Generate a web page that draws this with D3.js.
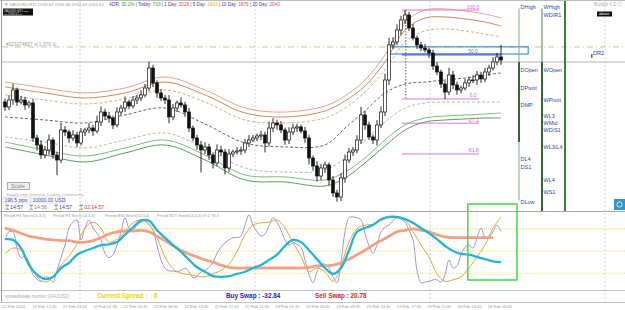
<!DOCTYPE html>
<html><head><meta charset="utf-8">
<script src="https://cdn.jsdelivr.net/npm/d3@7"></script>
<style>
html,body{margin:0;padding:0;background:#fff;overflow:hidden;}
svg{display:block;font-family:"Liberation Sans",Arial,sans-serif;}
</style></head><body>
<svg id="c" width="625" height="310"></svg>
<script>
// ---------------- DATA ----------------
const firstOpen = 2030.5;
const closes = [2029.88,2030.75,2032,2030.5,2030.75,2030.13,2030.38,2026,2025.13,2023.88,
2024.5,2025.75,2023.88,2023.25,2027,2026.75,2026,2026.38,2025.38,2026.75,
2027,2027.25,2026.88,2028,2029.25,2028.75,2028.5,2027.63,2029.25,2029.75,
2030.5,2030,2030.75,2031,2031.38,2032.25,2034.75,2032.88,2031.63,2031,
2030.75,2028.63,2029.75,2030.38,2030.13,2029.25,2027.25,2026,2025.13,2024.5,
2024.88,2023.88,2022.88,2024.5,2024.25,2022.25,2024,2024.25,2024.38,2024.5,
2025.38,2025.75,2026,2026.25,2026.38,2025.38,2027.25,2027.88,2027.63,2027,
2025.75,2026.75,2027.25,2027.38,2026.88,2026,2023.5,2022.5,2021.25,2022.25,
2022.63,2020.75,2019.13,2018.63,2021,2023.25,2024.25,2024.5,2025.75,2028.88,
2027.63,2026.13,2025.75,2027.63,2029.25,2033.25,2037.63,2038,2039.5,2040.75,
2041.38,2039.75,2038.5,2037.63,2037.25,2037,2036.63,2035,2034.25,2032.75,
2031.75,2033.88,2032.63,2032,2032.25,2032.88,2033.25,2033.25,2033.88,2033.38,
2034.25,2034.75,2035.5,2036.13,2035.75];
const hiWick = [0.4,0.6,0.8,0.3,0.5,0.4,0.3,0.5,0.4,0.6, 0.5,0.7,0.3,0.4,0.9,0.5,0.3,0.6,0.4,0.5,
0.3,0.6,0.4,0.8,0.7,0.4,0.5,0.3,0.6,0.4, 0.7,0.3,0.5,0.4,0.6,0.5,0.8,0.4,0.3,0.5,
0.4,0.6,0.5,0.3,0.7,0.4,0.5,0.3,0.4,0.5, 0.6,0.4,0.3,0.7,0.5,0.4,0.6,0.3,0.5,0.4,
0.5,0.6,0.4,0.3,0.5,0.4,0.8,0.6,0.4,0.5, 0.3,0.6,0.5,0.4,0.3,0.5,0.4,0.3,0.6,0.5,
0.4,0.3,0.5,0.4,0.6,0.7,0.5,0.4,0.6,1.0, 0.5,0.4,0.3,0.6,0.7,0.8,0.9,0.6,0.7,0.5,
0.6,0.4,0.5,0.3,0.4,0.5,0.3,0.4,0.5,0.3, 0.4,0.9,0.5,0.4,0.3,0.5,0.4,0.6,0.5,0.4,
0.5,0.4,0.6,0.5,1.5];
const loWick = [0.5,0.4,0.6,0.5,0.3,0.6,0.4,0.5,0.7,0.5, 0.4,0.6,0.5,1.9,0.4,0.5,0.6,0.4,0.5,0.3,
0.5,0.4,0.6,0.3,0.5,0.4,0.6,0.5,0.3,0.4, 0.5,0.4,0.3,0.5,0.4,0.3,0.4,0.5,0.6,0.4,
0.5,0.8,0.4,0.5,0.3,0.6,0.5,0.4,0.6,2.8, 0.5,0.6,0.7,0.4,0.5,0.8,0.5,0.4,0.3,0.5,
0.4,0.5,0.3,0.4,0.5,1.2,0.4,0.5,0.6,0.4, 0.6,0.5,0.4,0.5,0.3,0.6,0.8,0.6,0.7,0.5,
0.6,0.7,0.5,0.6,0.5,0.6,0.4,0.5,0.4,0.5, 0.6,0.4,0.5,0.7,0.4,0.5,0.6,0.5,0.4,0.6,
0.5,0.4,0.3,0.5,0.4,0.3,0.6,0.5,0.4,0.5, 0.9,0.4,0.5,0.6,0.4,0.3,0.5,0.4,0.6,0.5,
0.4,0.5,0.3,0.4,0.6];

// envelope bands, sampled at candle indices
const bandIdx = [0,10,20,30,40,50,60,70,80,85,90,95,100,105,110,115,120,124];
const bandMid = [2028.63,2028.25,2027.88,2028.88,2029.75,2027.75,2025.38,2024.88,2025.13,2027.25,2029.38,2031.63,2032.75,2033,2033.25,2033.5,2033.88,2034.13];
const bandUpOuter = [2033,2032.25,2031.63,2032.25,2033.63,2032,2029.75,2029.25,2030,2031.25,2033.25,2036.38,2040.5,2042,2042.13,2041.88,2041.5,2041];
const bandUpInner = [2032.38,2031.63,2031,2031.63,2033,2031.38,2029.13,2028.63,2029.38,2030.63,2032.5,2035.5,2039.5,2041,2041.13,2040.88,2040.5,2040];
const bandUpDash = [2031.38,2030.75,2030.25,2030.88,2032,2030.5,2028.25,2027.88,2028.5,2029.75,2031.75,2034.5,2038,2039.38,2039.63,2039.38,2039,2038.63];
const bandLoDash = [2026.13,2025.5,2024.75,2025.75,2026.63,2024.75,2022.25,2021.75,2022,2023.5,2025.75,2028,2029.75,2030.38,2030.5,2030.5,2030.5,2030.5];
const bandLoInner = [2025.5,2024.5,2023.75,2024.75,2025.75,2023.88,2021.38,2021.13,2020.75,2021.75,2023.5,2025.75,2027.63,2028.5,2028.75,2028.88,2029,2029.13];
const bandLoOuter = [2024.88,2023.88,2023,2024.13,2025.13,2023.25,2020.75,2020.5,2020,2021,2022.88,2025,2027,2028,2028.25,2028.38,2028.5,2028.5];

// Fibonacci
const fibLevels = [100, 50, 0, -27.2, -61.8];
const fibHigh = 2042, fibLow = 2030.88;
const fibStartIdx = 99.2, fibEndIdx = 118.5;

const sellLine = 2037.38;   // dash-dot order line
const bidPrice = 2035.5;
const zoneTop = 2037.4, zoneBottom = 2036.5, zoneStartIdx = 95.8, zoneEndIdx = 130.8;

// pivot columns (candle offsets) and levels
const dCol = 128.5, wCol = 134.25, mCol = 140;
const dailyLevels = [["DHigh",2042.38],["DOpen",2034.5],["DPivot",2032.25],["DMP",2030.13],["DL4",2023.38],["DS1",2022.38],["DLow",2018]];
const weeklyLevels = [["WHigh",2042.38],["WD/R1",2041.38],["WOpen",2034.5],["WPivot",2030.75],["WL3",2028.75],["WMid",2027.88],["WD/S1",2027],["WL3/L4",2024.88],["WL4",2020.75],["WS1",2019.25]];
const dr2 = ["DR2", 2036.5, 146.5];

// stochastic oscillators (H4, H1, M30 every 2 candles; M15 every candle)
const stochH4 = [81,78,74,70,68,66,65,64,64,62,62,64,68,73,76,77,77,78,76,70,64,57,51,46,42,38,35,31,28,27,27,27,27,27,27,27,27,27,28,30,30,31,34,39,45,51,58,64,70,76,78,80,78,76,72,69,68,68,68,68,68,68,null];
const stochH1 = [66,65,54,31,18,12,15,27,34,45,50,54,58,59,62,72,82,91,91,78,68,58,49,38,28,22,16,15,16,19,22,27,31,38,45,57,65,62,51,39,27,19,27,51,76,81,85,93,96,96,93,88,81,74,66,57,50,46,45,42,39,36,35];
const stochM30 = [46,54,51,35,15,8,14,31,43,59,81,89,81,62,66,76,88,92,86,68,42,26,20,18,16,15,19,24,32,49,72,85,88,89,92,81,61,43,22,27,22,9,30,62,80,85,86,91,95,95,92,76,58,42,19,9,11,15,27,42,58,81,96];
const stochM15 = [65,76,76,54,41,43,35,18,12,9,15,14,8,24,41,58,81,89,92,65,81,92,81,74,65,47,41,45,58,76,95,81,78,85,89,92,86,78,58,38,27,23,23,22,24,27,22,14,16,22,24,28,35,47,55,61,65,68,68,70,85,99,85,76,70,73,84,95,89,78,65,58,61,59,55,38,18,7,22,32,32,27,15,7,35,76,95,96,95,92,74,57,47,58,76,82,85,91,95,93,89,78,65,24,7,8,9,11,11,8,18,38,27,30,45,55,58,54,68,81,69,69,76,85,76];
const stochLevels = [80, 50, 20];
const boxStartIdx = 115.7, boxEndIdx = 128;

const timeLabels = ["21 Feb 2024","21 Feb 17:45","21 Feb 21:45","22 Feb 01:45","22 Feb 05:45","22 Feb 09:45","22 Feb 13:45","22 Feb 17:45","22 Feb 21:45","23 Feb 01:45","23 Feb 05:45","23 Feb 09:45","23 Feb 13:45","23 Feb 17:45","23 Feb 21:45","26 Feb 04:45","26 Feb 08:45"];
const gridIdx = [18.75, 62.5, 106.25, 150];

// ---------------- DRAW ----------------
const svg = d3.select("#c");
const W = 625, H = 310;
const x = d3.scaleLinear().domain([0, 124]).range([5, 501]);
const y = d3.scaleLinear().domain([2018, 2042]).range([202, 10]);
const sy = d3.scaleLinear().domain([0, 100]).range([288, 214]);
const tx = d3.scalePoint().domain(timeLabels).range([2, 488]);

svg.append("rect").attr("width", W).attr("height", H).attr("fill", "#fff");
const defs = svg.append("defs");
defs.append("clipPath").attr("id","mainclip").append("rect").attr("x",2).attr("y",1).attr("width",623).attr("height",210);
defs.append("clipPath").attr("id","subclip").append("rect").attr("x",2).attr("y",212).attr("width",623).attr("height",77);

// grid verticals
svg.append("g").selectAll("line").data(gridIdx).join("line")
  .attr("x1", d => x(d)).attr("x2", d => x(d)).attr("y1", 1).attr("y2", 302)
  .attr("stroke", "#c8c8c8").attr("stroke-width", 0.8).attr("stroke-dasharray", "2,2");

const main = svg.append("g").attr("clip-path","url(#mainclip)");

// bands
const bandLine = vals => d3.line().curve(d3.curveCatmullRom)
  .x((d,i) => x(bandIdx[i])).y(d => y(d))(vals);
const bands = [
  [bandUpOuter, "#eaa08c", 1, null],
  [bandUpInner, "#cf8a5a", 1, null],
  [bandUpDash, "#e0a070", 0.9, "3,2"],
  [bandMid, "#555", 0.9, "3,2"],
  [bandLoDash, "#8ec48e", 0.9, "3,2"],
  [bandLoInner, "#7cbc7c", 1, null],
  [bandLoOuter, "#5aa25a", 1, null]
];
bands.forEach(([v,c,w,da]) => {
  main.append("path").attr("d", bandLine(v)).attr("fill","none")
    .attr("stroke", c).attr("stroke-width", w).attr("stroke-dasharray", da);
});

// order dash-dot line & bid line
main.append("line").attr("x1",2).attr("x2",W).attr("y1",y(sellLine)).attr("y2",y(sellLine))
  .attr("stroke","#cdc489").attr("stroke-width",1).attr("stroke-dasharray","6,3,1,3");
main.append("line").attr("x1",2).attr("x2",W).attr("y1",y(bidPrice)).attr("y2",y(bidPrice))
  .attr("stroke","#b5b5b5").attr("stroke-width",1);

// fibonacci
const fibPrice = l => fibLow + (fibHigh - fibLow) * l / 100;
main.append("line").attr("x1", x(fibStartIdx)+4).attr("x2", x(fibStartIdx)+4)
  .attr("y1", y(fibHigh)).attr("y2", y(fibLow)).attr("stroke","#444").attr("stroke-width",0.8).attr("stroke-dasharray","1.5,1.5");
fibLevels.forEach(l => {
  const isMid = l === 50;
  main.append("line").attr("x1", x(fibStartIdx)).attr("x2", isMid ? x(124) : x(fibEndIdx))
    .attr("y1", y(fibPrice(l))).attr("y2", y(fibPrice(l)))
    .attr("stroke", isMid ? "#6a5ad8" : "#dc78d4").attr("stroke-width", isMid ? 1.8 : 1);
  main.append("text").attr("x", x(fibEndIdx) - 6).attr("y", y(fibPrice(l)) - 1.5)
    .attr("font-size", 5).attr("fill", isMid ? "#7a6ad8" : "#d060c8").attr("text-anchor","middle")
    .text(l.toFixed(1));
});

// zone rectangle
main.append("rect").attr("x", x(zoneStartIdx)).attr("y", y(zoneTop))
  .attr("width", x(zoneEndIdx) - x(zoneStartIdx)).attr("height", y(zoneBottom) - y(zoneTop))
  .attr("fill","none").attr("stroke","#3d95d6").attr("stroke-width",1.2);

// candles
const candles = closes.map((c,i) => {
  const o = i === 0 ? firstOpen : closes[i-1];
  return {i, o, c, h: Math.max(o,c) + hiWick[i], l: Math.min(o,c) - loWick[i]};
});
const cg = main.append("g");
cg.selectAll("line").data(candles).join("line")
  .attr("x1", d => x(d.i)).attr("x2", d => x(d.i)).attr("y1", d => y(d.h)).attr("y2", d => y(d.l))
  .attr("stroke","#111").attr("stroke-width",0.9);
cg.selectAll("rect").data(candles).join("rect")
  .attr("x", d => x(d.i) - 1.4).attr("width", 2.8)
  .attr("y", d => y(Math.max(d.o,d.c))).attr("height", d => Math.max(0.8, Math.abs(y(d.o) - y(d.c))))
  .attr("fill", d => d.c >= d.o ? "#fff" : "#111").attr("stroke","#111").attr("stroke-width",0.7);

// pivot columns
const colLine = (c, p1, p2, col, w) => main.append("line").attr("x1", x(c)).attr("x2", x(c))
  .attr("y1", p1).attr("y2", p2).attr("stroke", col).attr("stroke-width", w);
colLine(dCol, y(2042.2), y(2018.2), "#7fae7f", 1);
colLine(dCol, y(bidPrice), y(2025.5), "#2f6b2f", 2);
colLine(wCol, y(2042.2), y(bidPrice), "#5f9a5f", 1.2);
colLine(wCol, y(bidPrice), 211, "#2f6b2f", 2);
colLine(mCol, 1, 211, "#3d7d3d", 2);
const labCol = "#3b3bb0";
main.append("g").selectAll("text").data(dailyLevels).join("text")
  .attr("x", x(dCol)+1.5).attr("y", d => y(d[1]) + 2).attr("font-size", 5.5).attr("fill", labCol).text(d => d[0]);
main.append("g").selectAll("text").data(weeklyLevels).join("text")
  .attr("x", x(wCol)+1.5).attr("y", d => y(d[1]) + 2).attr("font-size", 5.5).attr("fill", labCol).text(d => d[0]);
main.append("text").attr("x", x(dr2[2])+2).attr("y", y(dr2[1])+1).attr("font-size", 5.5).attr("fill", labCol).text(dr2[0]);
main.append("rect").attr("x", x(dr2[2])).attr("y", y(dr2[1])).attr("width",1.5).attr("height",4).attr("fill","#a04080");

// panel borders
const hl = (yy, c) => svg.append("line").attr("x1",0).attr("x2",W).attr("y1",yy).attr("y2",yy).attr("stroke",c).attr("stroke-width",1);
hl(0.5, "#bbb"); hl(211.5, "#a8a8a8"); hl(290.5, "#c4c4c4"); hl(302.5, "#c4c4c4");
svg.append("line").attr("x1",1.5).attr("x2",1.5).attr("y1",0).attr("y2",302).attr("stroke","#999");

// header texts
const txt = (g, xx, yy, s, col, fs, extra) => {
  const t = g.append("text").attr("x", xx).attr("y", yy).attr("font-size", fs).attr("fill", col).text(s);
  if (extra) extra(t);
  return t;
};
txt(svg, 4, 6, "▼ XAUUSD,M15  2034.62 2034.68 2034.64 2034.62", "#999", 4.3);
const hdr = [["ADR: ","#3a3ab8"],["30.2%","#2ea82e"],[" | Today: ","#3a3ab8"],["739","#2ea82e"],
  [" | 1 Day: ","#3a3ab8"],["2029","#e04848"],[" | 5 Day: ","#3a3ab8"],["1903","#e0b030"],
  [" | 10 Day: ","#3a3ab8"],["1879","#e04848"],[" | 20 Day: ","#3a3ab8"],["2040","#e04848"]];
const ht = svg.append("text").attr("x",109).attr("y",6).attr("font-size",4.6).attr("xml:space","preserve");
hdr.forEach(d => ht.append("tspan").attr("fill", d[1]).text(d[0]));
svg.append("rect").attr("x",3).attr("y",8.5).attr("width",30).attr("height",7).attr("fill","#111");
txt(svg, 4, 11.6, "XAUUSD M15 ▪▪▪▪", "#ddd", 3);
txt(svg, 4, 14.8, "▪▪▪ 2034.62 ▪▪", "#ddd", 3);
txt(svg, 6, 45.5, "#223274827 sl:1.370 ①", "#999", 4.8);
txt(svg, 594, 6, "Buildnt 4.5 ⓘ", "#aaa", 4.6);
svg.append("rect").attr("x",597).attr("y",11.5).attr("width",15).attr("height",5).attr("fill","#111");
txt(svg, 599, 15.4, "above", "#fff", 3.8);

// bottom-left widgets
svg.append("rect").attr("x",7.5).attr("y",182.5).attr("width",22).attr("height",7).attr("fill","#eee").attr("stroke","#999").attr("stroke-width",0.8);
txt(svg, 11, 188, "Scale", "#888", 5.5);
txt(svg, 6, 195.8, "Supply and Demand Trading Community", "#b0b0b0", 4.3);
svg.append("rect").attr("x",3).attr("y",197).attr("width",27).attr("height",6).attr("fill","#fff").attr("stroke","#ccc").attr("stroke-width",0.6);
svg.append("rect").attr("x",31).attr("y",197).attr("width",34).attr("height",6).attr("fill","#fff").attr("stroke","#ccc").attr("stroke-width",0.6);
txt(svg, 4.5, 201.8, "196.5 pips", "#3a3ab8", 5);
txt(svg, 32.5, 201.8, "10000.00 USD", "#3a3ab8", 5);
const timers = [[4,"#3a3ab8"," 14:57"],[28,"#888"," 14:56"],[53,"#3a3ab8"," 14:57"],[78,"#d04040"," 02:14:57"]];
timers.forEach(([xx,c,s]) => {
  txt(svg, xx, 209, "⌛", c, 5);
  txt(svg, xx+6, 209, s, c, 5.2);
});

// subpanel
const sub = svg.append("g").attr("clip-path","url(#subclip)");
sub.selectAll("line.lv").data(stochLevels).join("line").attr("class","lv")
  .attr("x1",2).attr("x2",W).attr("y1", d => sy(d)).attr("y2", d => sy(d))
  .attr("stroke","#e2d99a").attr("stroke-width",1).attr("stroke-dasharray","1,1");
const sline = (vals, step) => d3.line().defined(d => d !== null).curve(d3.curveCatmullRom)
  .x((d,i) => x(i*step)).y(d => sy(d))(vals);
sub.append("path").attr("d", sline(stochM15,1)).attr("fill","none").attr("stroke","#9f84de").attr("stroke-width",0.9);
sub.append("path").attr("d", sline(stochM30,2)).attr("fill","none").attr("stroke","#e3a93a").attr("stroke-width",1);
sub.append("path").attr("d", sline(stochH4,2)).attr("fill","none").attr("stroke","#f2a283").attr("stroke-width",2.8);
sub.append("path").attr("d", sline(stochH1,2)).attr("fill","none").attr("stroke","#22b6d6").attr("stroke-width",2.3);
const periods = [[4,"Period H4 Stoch(14,3,3)"],[53,"Period H1 Stoch(14,3,3)"],[105,"Period M30 Stoch(14,3,3)"],[157,"Period M15 Stoch(14,3,3) 67.2 78.3"]];
periods.forEach(([xx,s]) => txt(svg, xx, 216.5, s, "#999", 3.9));
svg.append("rect").attr("x", x(boxStartIdx)).attr("y", 204).attr("width", x(boxEndIdx)-x(boxStartIdx)).attr("height", 76)
  .attr("fill","none").attr("stroke","#3fdc3f").attr("stroke-width",1.5);
svg.append("rect").attr("x",614).attr("y",199).attr("width",11).attr("height",11).attr("fill","#2f96cf");
svg.append("circle").attr("cx",619.5).attr("cy",204.5).attr("r",2.6).attr("fill","none").attr("stroke","#fff").attr("stroke-width",0.8);

// info bar
txt(svg, 5, 297.5, "spread/swap monitor [XAUUSD]", "#aaa", 4.5);
txt(svg, 97, 298, "Current Spread :", "#e6cf1e", 6.4, t => t.attr("font-weight","bold"));
txt(svg, 154, 298, "6", "#e6cf1e", 6.4, t => t.attr("font-weight","bold"));
txt(svg, 226, 298, "Buy Swap : -32.84", "#2424b8", 6.4, t => t.attr("font-weight","bold"));
txt(svg, 315, 298, "Sell Swap : 20.78", "#d42424", 6.4, t => t.attr("font-weight","bold"));

// time axis
svg.append("g").selectAll("text").data(timeLabels).join("text")
  .attr("x", d => tx(d)).attr("y", 308).attr("font-size", 4.1).attr("fill","#999").text(d => d);
</script>
</body></html>
